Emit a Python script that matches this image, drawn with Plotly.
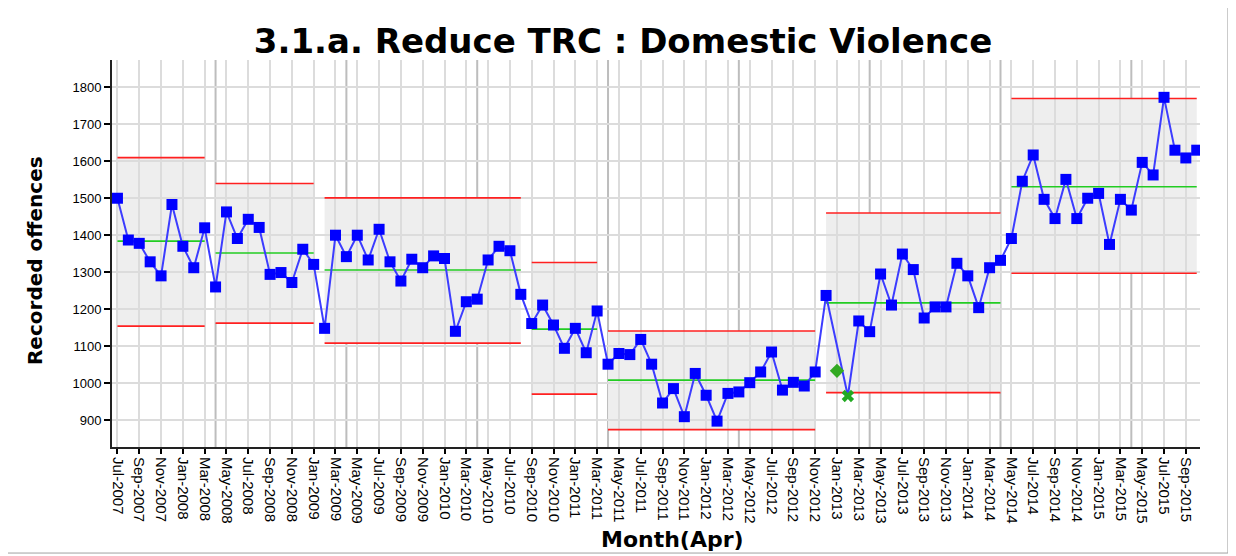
import pandas as pd
import plotly.graph_objects as go

# ---- data ----
months = list(pd.date_range("2007-07-01", periods=100, freq="MS").strftime("%b-%Y"))

recorded = [
    1500, 1387, 1378, 1328, 1290, 1483, 1370, 1312, 1420,
    1260, 1463, 1391, 1443, 1421, 1294, 1299, 1272, 1362, 1321,
    1148, 1400, 1342, 1400, 1333, 1416, 1328, 1276, 1335, 1312, 1344, 1337, 1140, 1220, 1227, 1333, 1370, 1358, 1240,
    1161, 1211, 1157, 1094, 1148, 1082, 1195,
    1051, 1080, 1077, 1118, 1051, 946, 985, 909, 1026, 967, 897, 972, 976, 1001, 1030, 1084, 981, 1002, 992, 1030,
    1237, None, 965, 1168, 1139, 1295, 1211, 1349, 1307, 1176, 1206, 1206, 1324, 1290, 1204, 1312, 1332,
    1391, 1546, 1617, 1497, 1445, 1551, 1445, 1500, 1513, 1375, 1497, 1468, 1597, 1563, 1773, 1630, 1609, 1630,
]

phase_start = ["Jul-2007", "Apr-2008", "Feb-2009", "Sep-2010", "Apr-2011", "Dec-2012", "May-2014"]
phase_end = ["Mar-2008", "Jan-2009", "Aug-2010", "Mar-2011", "Nov-2012", "Apr-2014", "Oct-2015"]
phase_ucl = [1610, 1540, 1501, 1326, 1141, 1460, 1770]
phase_cl = [1384, 1352, 1306, 1146, 1008, 1217, 1531]
phase_lcl = [1154, 1162, 1108, 970, 874, 974, 1297]

year_starts = ["Apr-2008", "Apr-2009", "Apr-2010", "Apr-2011", "Apr-2012", "Apr-2013", "Apr-2014", "Apr-2015"]

flag_low_month = ["Feb-2013"]
flag_low_value = [965]
note_month = ["Jan-2013"]
note_value = [1033]

# ---- figure ----
fig = go.Figure()

shapes = []
for s, e, u, l in zip(phase_start, phase_end, phase_ucl, phase_lcl):
    shapes.append(dict(type="rect", xref="x", yref="y", x0=s, x1=e, y0=l, y1=u,
                       fillcolor="#eeeeee", line=dict(width=0), layer="below"))
for m in year_starts:
    shapes.append(dict(type="line", xref="x", yref="paper", x0=m, x1=m, y0=0, y1=1,
                       line=dict(color="#bdbdbd", width=2), layer="below"))
# outer frame
shapes.append(dict(type="rect", xref="paper", yref="paper",
                   x0=-0.1020, x1=1.0257, y0=-0.274, y1=1.1525,
                   line=dict(color="#a0a0a0", width=1), fillcolor="rgba(0,0,0,0)"))

for s, e, u, c, l in zip(phase_start, phase_end, phase_ucl, phase_cl, phase_lcl):
    fig.add_trace(go.Scatter(x=[s, e], y=[u, u], mode="lines",
                             line=dict(color="#ff2020", width=1.6), showlegend=False, hoverinfo="skip"))
    fig.add_trace(go.Scatter(x=[s, e], y=[l, l], mode="lines",
                             line=dict(color="#ff2020", width=1.6), showlegend=False, hoverinfo="skip"))
    fig.add_trace(go.Scatter(x=[s, e], y=[c, c], mode="lines",
                             line=dict(color="#22cc22", width=1.6), showlegend=False, hoverinfo="skip"))

symbols = ["x" if m in flag_low_month else "square" for m in months]
colors = ["#22aa22" if m in flag_low_month else "#0000ff" for m in months]
fig.add_trace(go.Scatter(
    x=months, y=recorded, mode="lines+markers", connectgaps=True,
    line=dict(color="#3c3cff", width=2),
    marker=dict(symbol=symbols, color=colors, size=11, line=dict(width=0)),
    showlegend=False,
))
fig.add_trace(go.Scatter(x=note_month, y=note_value, mode="markers",
                         marker=dict(symbol="diamond", color="#33aa22", size=11),
                         showlegend=False))

fig.update_layout(
    width=1236, height=556,
    margin=dict(l=104, r=44, t=52, b=117, autoexpand=False),
    paper_bgcolor="white", plot_bgcolor="white",
    shapes=shapes,
    title=dict(text="<b>3.1.a. Reduce TRC : Domestic Violence</b>",
               x=0.4976, xanchor="center", y=0.94, yanchor="middle",
               font=dict(family="DejaVu Sans", size=34, color="black")),
    annotations=[
        dict(text="<b>Recorded offences</b>", xref="paper", yref="paper",
             x=-0.0708, y=0.483, textangle=-90, showarrow=False,
             xanchor="center", yanchor="middle",
             font=dict(family="DejaVu Sans", size=20, color="black")),
        dict(text="<b>Month(Apr)</b>", xref="paper", yref="paper",
             x=0.515, y=-0.240, showarrow=False, xanchor="center", yanchor="middle",
             font=dict(family="DejaVu Sans", size=22, color="black")),
    ],
)

fig.update_xaxes(
    type="category", categoryorder="array", categoryarray=months,
    range=[-0.5, 99.3], automargin=False,
    tickmode="array", tickvals=months[0::2], ticktext=months[0::2],
    tickangle=90, tickfont=dict(family="Liberation Sans", size=15, color="black"),
    ticks="outside", ticklen=5, tickwidth=1.5, tickcolor="black",
    showline=True, linecolor="#222222", linewidth=2,
    showgrid=True, gridcolor="#dcdcdc", gridwidth=1.5, zeroline=False,
)
fig.update_yaxes(
    range=[827, 1874], tick0=0, dtick=100, automargin=False,
    tickfont=dict(family="Liberation Sans", size=13, color="black"),
    ticks="outside", ticklen=6, tickwidth=1.5, tickcolor="black",
    showline=True, linecolor="#222222", linewidth=2,
    showgrid=True, gridcolor="#dcdcdc", gridwidth=1.5, zeroline=False,
)

fig.write_html("out.html")
